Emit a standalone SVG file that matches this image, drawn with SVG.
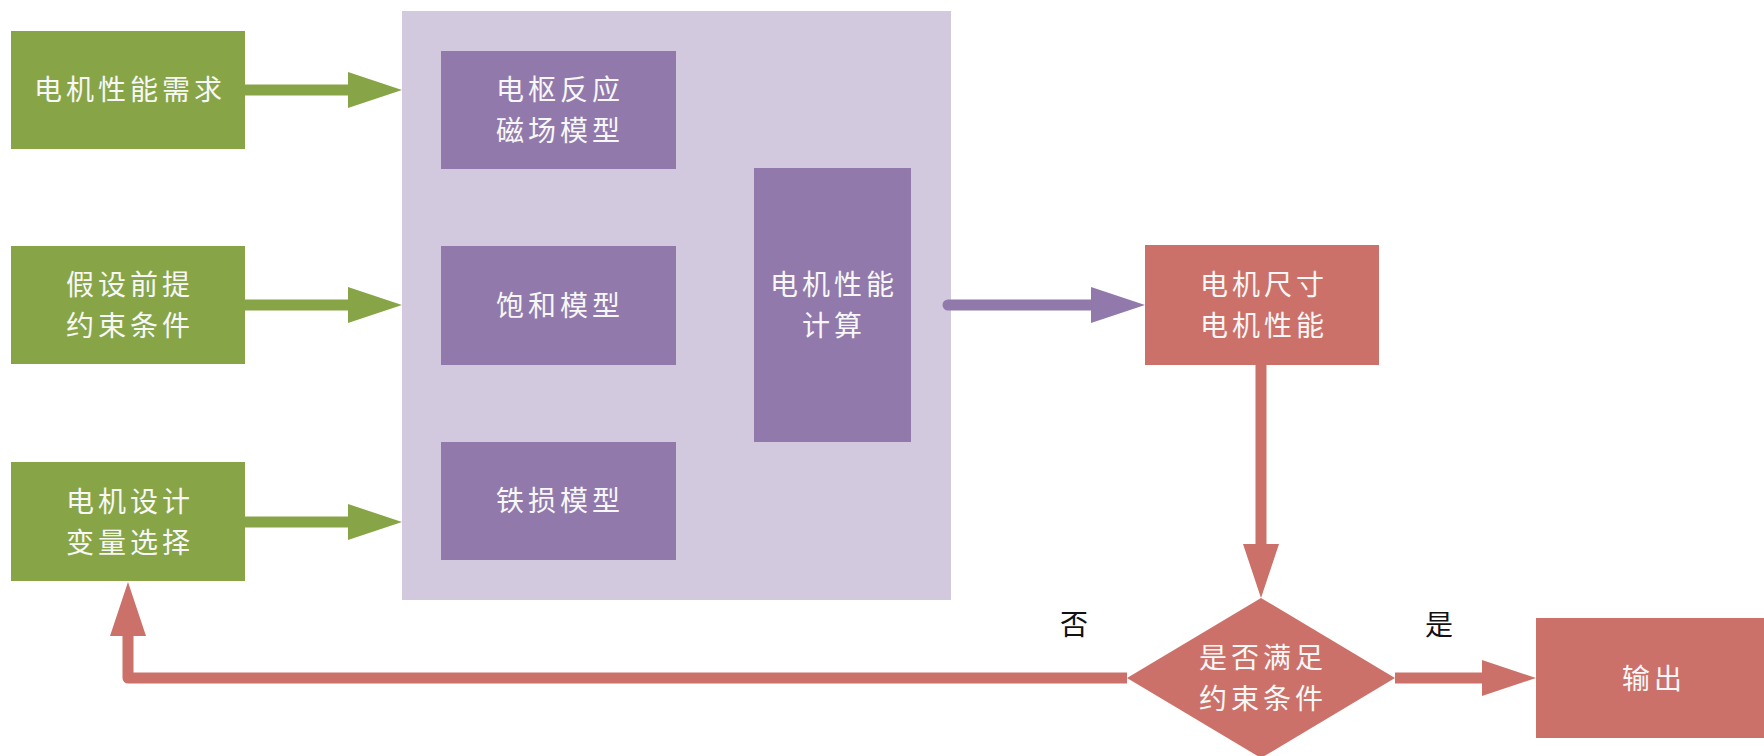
<svg xmlns="http://www.w3.org/2000/svg" width="1764" height="756" viewBox="0 0 1764 756">
<style>
.g{fill:#87A547}
.pbg{fill:#D2C9DF}
.p{fill:#917AAB}
.r{fill:#CC7169}
.t{font-family:"Noto Sans CJK SC","Noto Sans",sans-serif;font-size:28px;letter-spacing:4px;fill:#F7F7F7;text-anchor:middle}
.lbl{font-family:"Noto Sans CJK SC","Noto Sans",serif;font-size:28px;fill:#111;text-anchor:middle}
.cg{stroke:#87A547;stroke-width:11;fill:none}
.cp{stroke:#917AAB;stroke-width:11;fill:none;stroke-linecap:round}
.cr{stroke:#CC7169;stroke-width:11;fill:none;stroke-linejoin:round}
</style>
<defs>
<marker id="ag" markerUnits="userSpaceOnUse" markerWidth="54" markerHeight="36" refX="0" refY="18" orient="auto"><path d="M0,0 L54,18 L0,36 z" fill="#87A547"/></marker>
<marker id="ap" markerUnits="userSpaceOnUse" markerWidth="54" markerHeight="36" refX="0" refY="18" orient="auto"><path d="M0,0 L54,18 L0,36 z" fill="#917AAB"/></marker>
<marker id="ar" markerUnits="userSpaceOnUse" markerWidth="54" markerHeight="36" refX="0" refY="18" orient="auto"><path d="M0,0 L54,18 L0,36 z" fill="#CC7169"/></marker>
</defs>
<rect width="1764" height="756" fill="#fff"/>
<g id="model-group">
<rect class="pbg" x="402" y="11" width="549" height="589"/>
</g>
<g id="n-demand"><rect class="g" x="11" y="31" width="234" height="118"/><text class="t" x="130" y="100">电机性能需求</text></g>
<g id="n-assume"><rect class="g" x="11" y="246" width="234" height="118"/><text class="t" x="130" y="295">假设前提</text><text class="t" x="130" y="336">约束条件</text></g>
<g id="n-vars"><rect class="g" x="11" y="462" width="234" height="119"/><text class="t" x="130" y="512">电机设计</text><text class="t" x="130" y="553">变量选择</text></g>
<g id="n-armature"><rect class="p" x="441" y="51" width="235" height="118"/><text class="t" x="560" y="100">电枢反应</text><text class="t" x="560" y="141">磁场模型</text></g>
<g id="n-sat"><rect class="p" x="441" y="246" width="235" height="119"/><text class="t" x="560" y="316">饱和模型</text></g>
<g id="n-iron"><rect class="p" x="441" y="442" width="235" height="118"/><text class="t" x="560" y="511">铁损模型</text></g>
<g id="n-calc"><rect class="p" x="754" y="168" width="157" height="274"/><text class="t" x="834" y="295">电机性能</text><text class="t" x="834" y="336">计算</text></g>
<g id="n-result"><rect class="r" x="1145" y="245" width="234" height="120"/><text class="t" x="1264" y="295">电机尺寸</text><text class="t" x="1264" y="336">电机性能</text></g>
<g id="n-check"><path class="r" d="M1261,598 L1395,678 L1261,758 L1127,678 z"/><text class="t" x="1263" y="668">是否满足</text><text class="t" x="1263" y="709">约束条件</text></g>
<g id="n-output"><rect class="r" x="1536" y="618" width="234" height="120"/><text class="t" x="1654" y="689">输出</text></g>
<g id="connectors">
<line class="cg" x1="245" y1="90" x2="348" y2="90" marker-end="url(#ag)"/>
<line class="cg" x1="245" y1="305" x2="348" y2="305" marker-end="url(#ag)"/>
<line class="cg" x1="245" y1="522" x2="348" y2="522" marker-end="url(#ag)"/>
<line class="cp" x1="948" y1="305" x2="1091" y2="305" marker-end="url(#ap)"/>
<line class="cr" x1="1261" y1="365" x2="1261" y2="544" marker-end="url(#ar)"/>
<line class="cr" x1="1395" y1="678" x2="1482" y2="678" marker-end="url(#ar)"/>
<path class="cr" d="M1127,678 L128,678 L128,636" marker-end="url(#ar)"/>
<text class="lbl" x="1074" y="635">否</text>
<text class="lbl" x="1439" y="635">是</text>
</g>
</svg>
